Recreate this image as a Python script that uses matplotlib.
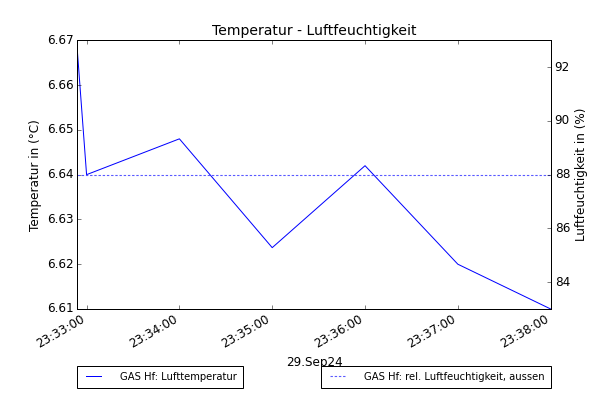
"""Temperatur / Luftfeuchtigkeit plot for GAS Hf sensor."""

import matplotlib
matplotlib.use("Agg")
import matplotlib.pyplot as plt
import matplotlib.dates as mdates
import pandas as pd

# ── data ─────────────────────────────────────────────────────────────────────
times = pd.to_datetime([
    "2024-09-29 23:32:54",
    "2024-09-29 23:33:00",
    "2024-09-29 23:34:00",
    "2024-09-29 23:35:00",
    "2024-09-29 23:36:00",
    "2024-09-29 23:37:00",
    "2024-09-29 23:38:00",
])
temperature = [6.6678, 6.640, 6.648, 6.6237, 6.642, 6.620, 6.610]
humidity = [88, 88, 88, 88, 88, 88, 88]

TEMP_LABEL = "GAS Hf: Lufttemperatur"
HUM_LABEL = "GAS Hf: rel. Luftfeuchtigkeit, aussen"

plt.style.use("classic")

fig, ax1 = plt.subplots(figsize=(8.5, 5.5), dpi=72)
fig.subplots_adjust(left=0.1263, right=0.8998, top=0.8982, bottom=0.2197)

ax1.plot(times, temperature, "-", color="blue", linewidth=1, label=TEMP_LABEL)
ax1.set_ylim(6.61, 6.67)
ax1.ticklabel_format(axis="y", useOffset=False)
ax1.set_ylabel("Temperatur in (°C)")
ax1.set_title("Temperatur - Luftfeuchtigkeit", fontsize=14)

ax2 = ax1.twinx()
ax2.plot(times, humidity, linestyle=(0, (2.4, 1.8)), color="#5a5aff",
         linewidth=1.1, label=HUM_LABEL)
ax2.set_ylim(83, 93)
ax2.set_ylabel("Luftfeuchtigkeit in (%)")

ax1.set_xlim(times[0], times[-1])
ax1.xaxis.set_major_locator(mdates.MinuteLocator())
ax1.xaxis.set_major_formatter(mdates.DateFormatter("%H:%M:%S"))
ax1.set_xlabel("29.Sep24")
for lbl in ax1.get_xticklabels():
    lbl.set_rotation(30)
    lbl.set_ha("right")

legend_kw = dict(bbox_transform=fig.transFigure, borderaxespad=0, fontsize=10,
                 borderpad=0.6, handlelength=2.1, handletextpad=1.6)
ax1.legend(loc="upper left", bbox_to_anchor=(0.1263, 0.0758), **legend_kw)
ax2.legend(loc="upper right", bbox_to_anchor=(0.8998, 0.0758), **legend_kw)

fig.savefig("out.png", dpi=72)
plt.close(fig)
